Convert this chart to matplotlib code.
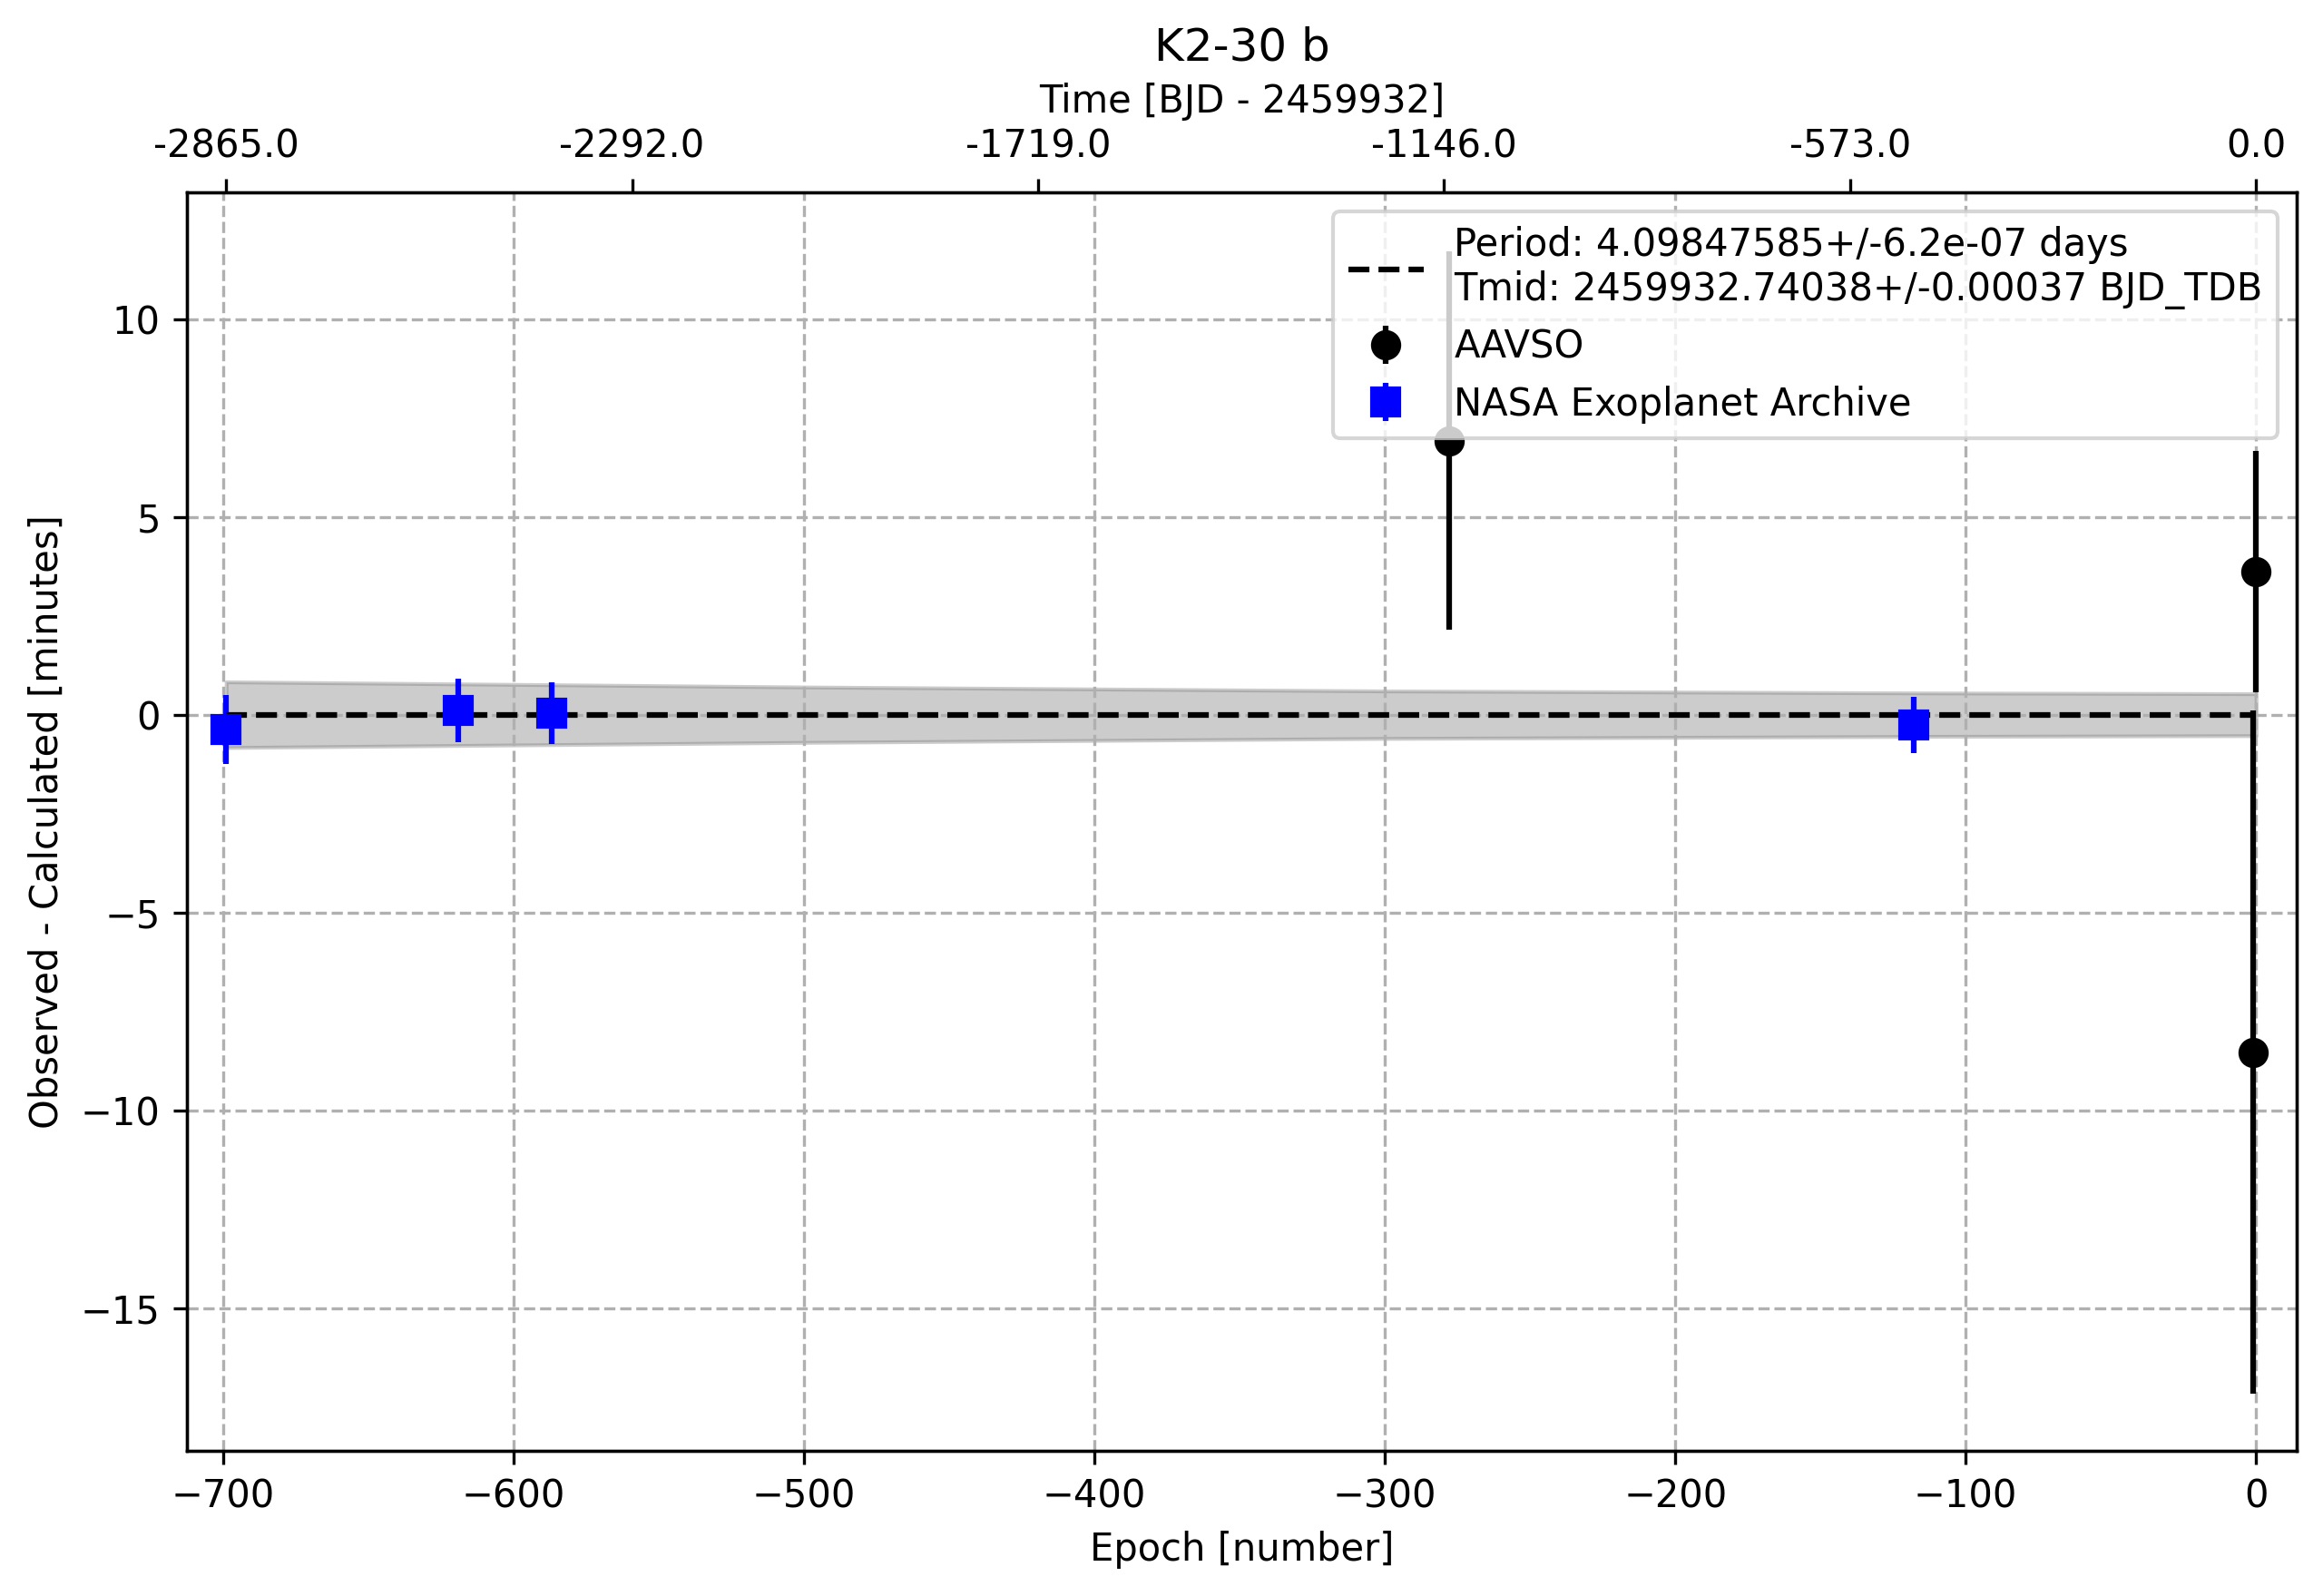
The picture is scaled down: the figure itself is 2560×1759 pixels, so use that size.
import numpy as np
import matplotlib
matplotlib.use("Agg")
import matplotlib.pyplot as plt

# fit results (from legend)
period = 4.09847585
period_err = 6.2e-07
tmid = 2459932.74038
tmid_err = 0.00037

# AAVSO observations (epoch, O-C minutes, error)
aavso_epoch = [-278, 0, -1]
aavso_oc = [6.92, 3.62, -8.53]
aavso_err = [4.78, 3.05, 8.63]

# NASA Exoplanet Archive
nasa_epoch = [-699, -619, -587, -118]
nasa_oc = [-0.37, 0.10, 0.04, -0.26]
nasa_err = [0.87, 0.80, 0.78, 0.70]

# ephemeris uncertainty band (half width in minutes)
band_epoch = [-699, -500, -300, -118, 0]
band_half = [0.83, 0.70, 0.60, 0.55, 0.53]

# top axis tick values (days)
time_ticks = [-2865.0, -2292.0, -1719.0, -1146.0, -573.0, 0.0]

fig = plt.figure(figsize=(2560 / 300, 1759 / 300), dpi=300)
ax = fig.add_axes([0.0805, 0.0910, 0.9082, 0.7885])

be = np.array(band_epoch)
bh = np.array(band_half)
ax.fill_between(be, -bh, bh, color='gray', alpha=0.4)

ax.errorbar(aavso_epoch, aavso_oc, yerr=aavso_err, fmt='o', color='black',
            markersize=7, label='AAVSO')
ax.errorbar(nasa_epoch, nasa_oc, yerr=nasa_err, fmt='s', color='blue',
            markersize=7, label='NASA Exoplanet Archive')

fit_label = (f"Period: {period}+/-{period_err:.1e} days\n"
             f"Tmid: {tmid}+/-{tmid_err} BJD_TDB")
ax.plot([band_epoch[0], band_epoch[-1]], [0, 0], 'k--', label=fit_label)

ax.set_xlim(-712.5, 14.0)
ax.set_ylim(-18.6, 13.2)
ax.set_xlabel('Epoch [number]')
ax.set_ylabel('Observed - Calculated [minutes]')
ax.grid(True, ls='--')
ax.legend(loc='upper right')
ax.set_title('K2-30 b')

ax2 = ax.twiny()
ax2.set_xlim(ax.get_xlim())
ax2.set_xticks([t / period for t in time_ticks])
ax2.set_xticklabels([f"{t:.1f}" for t in time_ticks])
ax2.set_xlabel('Time [BJD - 2459932]')

fig.savefig('out.png', dpi=300)
